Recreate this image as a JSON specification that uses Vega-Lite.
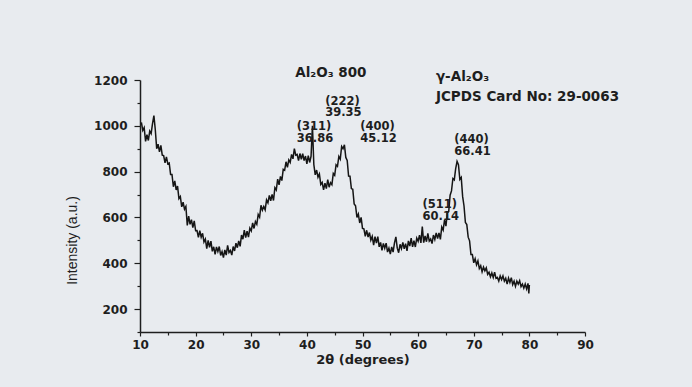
{
  "$schema": "https://vega.github.io/schema/vega-lite/v6.json",
  "width": 445,
  "height": 252,
  "autosize": {"type": "none"},
  "padding": {"left": 140, "top": 80, "right": 107, "bottom": 55},
  "background": "#e8ebef",
  "config": {
    "view": {"stroke": null},
    "axis": {
      "domainColor": "#1e1e1e",
      "domainWidth": 1.5,
      "tickColor": "#1e1e1e",
      "tickWidth": 1.2,
      "grid": false,
      "labelFont": "DejaVu Sans",
      "labelFontWeight": "bold",
      "labelFontSize": 12,
      "labelColor": "#1e1e1e",
      "titleColor": "#1e1e1e",
      "labelOverlap": false,
      "labelFlush": false
    }
  },
  "layer": [
    {
      "data": {"values": [
        {"t":10.25,"i":1015},{"t":10.5,"i":980},{"t":10.75,"i":992},{"t":11.0,"i":932},{"t":11.25,"i":961},{"t":11.5,"i":936},{"t":11.75,"i":977},{"t":12.0,"i":966},{"t":12.25,"i":1010},{"t":12.5,"i":1045},{"t":12.75,"i":983},{"t":13.0,"i":900},{"t":13.25,"i":920},{"t":13.5,"i":886},{"t":13.75,"i":915},{"t":14.0,"i":872},{"t":14.25,"i":870},{"t":14.5,"i":838},{"t":14.75,"i":864},{"t":15.0,"i":834},{"t":15.25,"i":838},{"t":15.5,"i":788},{"t":15.75,"i":788},{"t":16.0,"i":734},{"t":16.25,"i":760},{"t":16.5,"i":720},{"t":16.75,"i":737},{"t":17.0,"i":682},{"t":17.25,"i":691},{"t":17.5,"i":646},{"t":17.75,"i":667},{"t":18.0,"i":636},{"t":18.25,"i":648},{"t":18.5,"i":565},{"t":18.75,"i":606},{"t":19.0,"i":570},{"t":19.25,"i":590},{"t":19.5,"i":556},{"t":19.75,"i":585},{"t":20.0,"i":542},
        {"t":20.25,"i":543},{"t":20.5,"i":513},{"t":20.75,"i":542},{"t":21.0,"i":514},{"t":21.25,"i":531},{"t":21.5,"i":493},{"t":21.75,"i":506},{"t":22.0,"i":464},{"t":22.25,"i":500},{"t":22.5,"i":470},{"t":22.75,"i":497},{"t":23.0,"i":452},{"t":23.25,"i":472},{"t":23.5,"i":439},{"t":23.75,"i":471},{"t":24.0,"i":451},{"t":24.25,"i":473},{"t":24.5,"i":434},{"t":24.75,"i":451},{"t":25.0,"i":425},{"t":25.25,"i":458},{"t":25.5,"i":436},{"t":25.75,"i":478},{"t":26.0,"i":447},{"t":26.25,"i":456},{"t":26.5,"i":436},{"t":26.75,"i":473},{"t":27.0,"i":454},{"t":27.25,"i":488},{"t":27.5,"i":468},{"t":27.75,"i":498},{"t":28.0,"i":474},{"t":28.25,"i":523},{"t":28.5,"i":505},{"t":28.75,"i":545},{"t":29.0,"i":512},{"t":29.25,"i":540},{"t":29.5,"i":514},{"t":29.75,"i":553},{"t":30.0,"i":541},
        {"t":30.25,"i":576},{"t":30.5,"i":552},{"t":30.75,"i":582},{"t":31.0,"i":570},{"t":31.25,"i":613},{"t":31.5,"i":601},{"t":31.75,"i":653},{"t":32.0,"i":632},{"t":32.25,"i":648},{"t":32.5,"i":633},{"t":32.75,"i":677},{"t":33.0,"i":664},{"t":33.25,"i":696},{"t":33.5,"i":673},{"t":33.75,"i":701},{"t":34.0,"i":674},{"t":34.25,"i":730},{"t":34.5,"i":720},{"t":34.75,"i":767},{"t":35.0,"i":742},{"t":35.25,"i":779},{"t":35.5,"i":761},{"t":35.75,"i":810},{"t":36.0,"i":806},{"t":36.25,"i":843},{"t":36.5,"i":819},{"t":36.75,"i":851},{"t":37.0,"i":840},{"t":37.25,"i":875},{"t":37.5,"i":856},{"t":37.75,"i":900},{"t":38.0,"i":872},{"t":38.25,"i":875},{"t":38.5,"i":848},{"t":38.75,"i":879},{"t":39.0,"i":854},{"t":39.25,"i":878},{"t":39.5,"i":848},{"t":39.75,"i":868},{"t":40.0,"i":834},
        {"t":40.25,"i":870},{"t":40.5,"i":840},{"t":40.75,"i":867},{"t":41.0,"i":1000},{"t":41.25,"i":831},{"t":41.5,"i":786},{"t":41.75,"i":807},{"t":42.0,"i":776},{"t":42.25,"i":790},{"t":42.5,"i":744},{"t":42.75,"i":753},{"t":43.0,"i":720},{"t":43.25,"i":750},{"t":43.5,"i":726},{"t":43.75,"i":765},{"t":44.0,"i":732},{"t":44.25,"i":752},{"t":44.5,"i":743},{"t":44.75,"i":792},{"t":45.0,"i":784},{"t":45.25,"i":830},{"t":45.5,"i":823},{"t":45.75,"i":866},{"t":46.0,"i":854},{"t":46.25,"i":910},{"t":46.5,"i":900},{"t":46.75,"i":917},{"t":47.0,"i":862},{"t":47.25,"i":849},{"t":47.5,"i":781},{"t":47.75,"i":780},{"t":48.0,"i":726},{"t":48.25,"i":723},{"t":48.5,"i":659},{"t":48.75,"i":651},{"t":49.0,"i":600},{"t":49.25,"i":615},{"t":49.5,"i":576},{"t":49.75,"i":600},{"t":50.0,"i":552},
        {"t":50.25,"i":550},{"t":50.5,"i":518},{"t":50.75,"i":544},{"t":51.0,"i":514},{"t":51.25,"i":534},{"t":51.5,"i":501},{"t":51.75,"i":517},{"t":52.0,"i":479},{"t":52.25,"i":516},{"t":52.5,"i":488},{"t":52.75,"i":516},{"t":53.0,"i":472},{"t":53.25,"i":491},{"t":53.5,"i":456},{"t":53.75,"i":487},{"t":54.0,"i":466},{"t":54.25,"i":488},{"t":54.5,"i":449},{"t":54.75,"i":466},{"t":55.0,"i":440},{"t":55.25,"i":471},{"t":55.5,"i":449},{"t":55.75,"i":489},{"t":56.0,"i":515},{"t":56.25,"i":466},{"t":56.5,"i":446},{"t":56.75,"i":483},{"t":57.0,"i":464},{"t":57.25,"i":491},{"t":57.5,"i":463},{"t":57.75,"i":486},{"t":58.0,"i":454},{"t":58.25,"i":498},{"t":58.5,"i":475},{"t":58.75,"i":510},{"t":59.0,"i":472},{"t":59.25,"i":499},{"t":59.5,"i":471},{"t":59.75,"i":510},{"t":60.0,"i":496},
        {"t":60.25,"i":523},{"t":60.5,"i":489},{"t":60.75,"i":560},{"t":61.0,"i":490},{"t":61.25,"i":519},{"t":61.5,"i":494},{"t":61.75,"i":531},{"t":62.0,"i":497},{"t":62.25,"i":506},{"t":62.5,"i":486},{"t":62.75,"i":523},{"t":63.0,"i":504},{"t":63.25,"i":533},{"t":63.5,"i":508},{"t":63.75,"i":533},{"t":64.0,"i":504},{"t":64.25,"i":558},{"t":64.5,"i":545},{"t":64.75,"i":590},{"t":65.0,"i":562},{"t":65.25,"i":621},{"t":65.5,"i":626},{"t":65.75,"i":697},{"t":66.0,"i":716},{"t":66.25,"i":770},{"t":66.5,"i":764},{"t":66.75,"i":813},{"t":67.0,"i":845},{"t":67.25,"i":830},{"t":67.5,"i":766},{"t":67.75,"i":775},{"t":68.0,"i":692},{"t":68.25,"i":650},{"t":68.5,"i":578},{"t":68.75,"i":569},{"t":69.0,"i":514},{"t":69.25,"i":498},{"t":69.5,"i":438},{"t":69.75,"i":438},{"t":70.0,"i":402},
        {"t":70.25,"i":420},{"t":70.5,"i":393},{"t":70.75,"i":410},{"t":71.0,"i":377},{"t":71.25,"i":389},{"t":71.5,"i":363},{"t":71.75,"i":383},{"t":72.0,"i":367},{"t":72.25,"i":380},{"t":72.5,"i":352},{"t":72.75,"i":361},{"t":73.0,"i":341},{"t":73.25,"i":358},{"t":73.5,"i":338},{"t":73.75,"i":361},{"t":74.0,"i":334},{"t":74.25,"i":338},{"t":74.5,"i":322},{"t":74.75,"i":345},{"t":75.0,"i":329},{"t":75.25,"i":345},{"t":75.5,"i":322},{"t":75.75,"i":335},{"t":76.0,"i":309},{"t":76.25,"i":335},{"t":76.5,"i":316},{"t":76.75,"i":337},{"t":77.0,"i":307},{"t":77.25,"i":322},{"t":77.5,"i":299},{"t":77.75,"i":322},{"t":78.0,"i":309},{"t":78.25,"i":324},{"t":78.5,"i":298},{"t":78.75,"i":309},{"t":79.0,"i":291},{"t":79.25,"i":309},{"t":79.5,"i":288},{"t":79.75,"i":312},{"t":79.9,"i":268},{"t":80.0,"i":305}
      ]},
      "mark": {"type": "line", "color": "#151515", "strokeWidth": 1.5},
      "encoding": {
        "x": {
          "field": "t", "type": "quantitative",
          "scale": {"domain": [10, 90], "nice": false},
          "axis": {
            "values": [10,15,20,25,30,35,40,45,50,55,60,65,70,75,80,85,90],
            "tickCount": 40,
            "labelExpr": "datum.value % 10 === 0 ? datum.label : ''",
            "labelOverlap": false,
            "tickSize": {"condition": {"test": "datum.value % 10 === 0", "value": 4}, "value": 3},
            "labelPadding": 3,
            "title": "2θ (degrees)",
            "titleFont": "DejaVu Sans",
            "titleFontWeight": "bold",
            "titleFontSize": 13,
            "titleBaseline": "middle",
            "titleY": 27
          }
        },
        "y": {
          "field": "i", "type": "quantitative",
          "scale": {"domain": [100, 1200], "nice": false},
          "axis": {
            "values": [100,200,300,400,500,600,700,800,900,1000,1100,1200],
            "tickCount": 40,
            "labelExpr": "datum.value % 200 === 0 ? datum.label : ''",
            "labelOverlap": false,
            "tickSize": {"condition": {"test": "datum.value % 200 === 0", "value": 6}, "value": 3},
            "labelPadding": 7,
            "format": "d",
            "title": "Intensity (a.u.)",
            "titleFont": "Liberation Sans",
            "titleFontWeight": "normal",
            "titleFontSize": 14,
            "titleBaseline": "middle",
            "titleX": -68,
            "titleY": 160
          }
        }
      }
    },
    {
      "data": {"values": [
        {"t": 37.9, "i": 1230, "label": "Al₂O₃ 800", "s": "big"},
        {"t": 63.2, "i": 1213, "label": "γ-Al₂O₃", "s": "big"},
        {"t": 63.2, "i": 1126, "label": "JCPDS Card No: 29-0063", "s": "big"},
        {"t": 43.3, "i": 1105, "label": "(222)", "s": "small"},
        {"t": 43.3, "i": 1055, "label": "39.35", "s": "small"},
        {"t": 38.2, "i": 994, "label": "(311)", "s": "small"},
        {"t": 38.2, "i": 942, "label": "36.86", "s": "small"},
        {"t": 49.6, "i": 994, "label": "(400)", "s": "small"},
        {"t": 49.6, "i": 942, "label": "45.12", "s": "small"},
        {"t": 66.5, "i": 938, "label": "(440)", "s": "small"},
        {"t": 66.5, "i": 884, "label": "66.41", "s": "small"},
        {"t": 60.8, "i": 654, "label": "(511)", "s": "small"},
        {"t": 60.8, "i": 602, "label": "60.14", "s": "small"}
      ]},
      "mark": {"type": "text", "align": "left", "baseline": "middle", "font": "DejaVu Sans", "fontWeight": "bold", "color": "#1e1e1e"},
      "encoding": {
        "x": {"field": "t", "type": "quantitative"},
        "y": {"field": "i", "type": "quantitative"},
        "text": {"field": "label"},
        "size": {"field": "s", "type": "nominal", "scale": {"domain": ["big", "small"], "range": [13.5, 11.5]}, "legend": null}
      }
    }
  ]
}
